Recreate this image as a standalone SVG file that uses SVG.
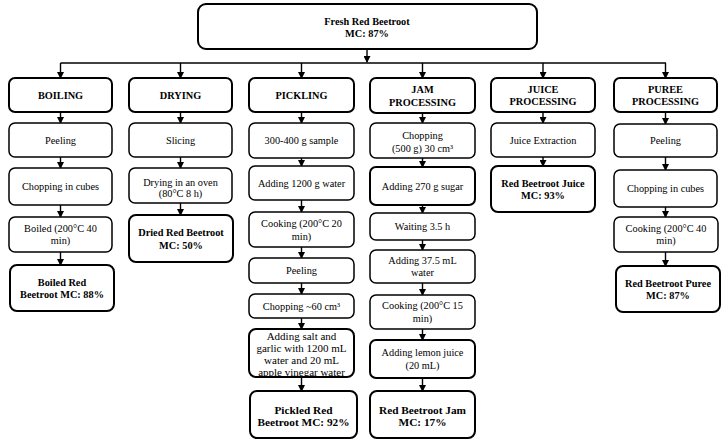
<svg xmlns="http://www.w3.org/2000/svg" width="726" height="444" viewBox="0 0 726 444">
<defs>
<style>
.box{fill:#fff;stroke:#000;stroke-width:1.5}
.hd{fill:#fff;stroke:#000;stroke-width:2}
text{font-family:"Liberation Serif","Times New Roman",serif;font-size:10.3px;text-anchor:middle;fill:#000}
.b{font-weight:bold}
.big{font-size:11.3px}
.sm{font-size:11px}
.ln{stroke:#000;stroke-width:1.4;fill:none}
.ar{stroke:#000;stroke-width:1.4;fill:none;marker-end:url(#ah)}
</style>
<marker id="ah" markerWidth="7" markerHeight="7" refX="6" refY="3.5" orient="auto" markerUnits="userSpaceOnUse">
<path d="M0,0 L7,3.5 L0,7 Z" fill="#000"/>
</marker>
</defs>
<rect width="726" height="444" fill="#fff"/>

<g id="connectors">
<line class="ar" x1="367" y1="49" x2="367" y2="62"/>
<line class="ln" x1="60.5" y1="63" x2="666" y2="63"/>
<line class="ar" x1="60.5" y1="63" x2="60.5" y2="78"/>
<line class="ar" x1="180.5" y1="63" x2="180.5" y2="78"/>
<line class="ar" x1="301.5" y1="63" x2="301.5" y2="78"/>
<line class="ar" x1="422.5" y1="63" x2="422.5" y2="78"/>
<line class="ar" x1="543" y1="63" x2="543" y2="78"/>
<line class="ar" x1="665.5" y1="63" x2="665.5" y2="78"/>
<!-- col1 -->
<line class="ar" x1="60.5" y1="112" x2="60.5" y2="123"/>
<line class="ar" x1="60.5" y1="157" x2="60.5" y2="168"/>
<line class="ar" x1="60.5" y1="205" x2="60.5" y2="217"/>
<line class="ar" x1="60.5" y1="252" x2="60.5" y2="265"/>
<!-- col2 -->
<line class="ar" x1="180.5" y1="112" x2="180.5" y2="123"/>
<line class="ar" x1="180.5" y1="157" x2="180.5" y2="168"/>
<line class="ar" x1="180.5" y1="203" x2="180.5" y2="215"/>
<!-- col3 -->
<line class="ar" x1="301.5" y1="112" x2="301.5" y2="123"/>
<line class="ar" x1="301.5" y1="158" x2="301.5" y2="166"/>
<line class="ar" x1="301.5" y1="200" x2="301.5" y2="212"/>
<line class="ar" x1="301.5" y1="247" x2="301.5" y2="258"/>
<line class="ar" x1="301.5" y1="283" x2="301.5" y2="294"/>
<line class="ar" x1="301.5" y1="318" x2="301.5" y2="329"/>
<line class="ar" x1="301.5" y1="377" x2="301.5" y2="391"/>
<!-- col4 -->
<line class="ar" x1="422.5" y1="113" x2="422.5" y2="123"/>
<line class="ar" x1="422.5" y1="158" x2="422.5" y2="167"/>
<line class="ar" x1="422.5" y1="205" x2="422.5" y2="213"/>
<line class="ar" x1="422.5" y1="240" x2="422.5" y2="250"/>
<line class="ar" x1="422.5" y1="283" x2="422.5" y2="295"/>
<line class="ar" x1="422.5" y1="329" x2="422.5" y2="340"/>
<line class="ar" x1="422.5" y1="378" x2="422.5" y2="391"/>
<!-- col5 -->
<line class="ar" x1="543" y1="112" x2="543" y2="123"/>
<line class="ar" x1="543" y1="157" x2="543" y2="166"/>
<!-- col6 -->
<line class="ar" x1="665.5" y1="112" x2="665.5" y2="124"/>
<line class="ar" x1="665.5" y1="157" x2="665.5" y2="170"/>
<line class="ar" x1="665.5" y1="207" x2="665.5" y2="217"/>
<line class="ar" x1="665.5" y1="252" x2="665.5" y2="266"/>
</g>

<g id="fresh">
<rect class="hd" x="198" y="4" width="339" height="45" rx="8"/>
<text class="b" x="367" y="25">Fresh Red Beetroot</text>
<text class="b" x="367" y="37">MC: 87%</text>
</g>

<!-- Column 1 -->
<g id="boiling">
<rect class="hd" x="9" y="78" width="103" height="34" rx="6"/>
<text class="b" x="60.5" y="98.5">BOILING</text>
</g>
<g id="boil-peeling">
<rect class="box" x="9" y="123" width="103" height="34" rx="6"/>
<text x="60.5" y="143.5">Peeling</text>
</g>
<g id="boil-chopping">
<rect class="box" x="9" y="168" width="103" height="37" rx="6"/>
<text x="60.5" y="190">Chopping in cubes</text>
</g>
<g id="boil-boiled">
<rect class="box" x="9" y="217" width="103" height="35" rx="6"/>
<text x="60.5" y="231.5">Boiled (200°C 40</text>
<text x="60.5" y="244">min)</text>
</g>
<g id="boil-result">
<rect class="hd" x="10" y="265" width="104" height="46" rx="7"/>
<text class="b" x="62" y="285.5">Boiled Red</text>
<text class="b" x="62" y="298">Beetroot MC: 88%</text>
</g>

<!-- Column 2 -->
<g id="drying">
<rect class="hd" x="129" y="78" width="103" height="34" rx="6"/>
<text class="b" x="180.5" y="98.5">DRYING</text>
</g>
<g id="dry-slicing">
<rect class="box" x="129" y="123" width="103" height="34" rx="6"/>
<text x="180.5" y="143.5">Slicing</text>
</g>
<g id="dry-oven">
<rect class="box" x="129" y="168" width="103" height="35" rx="6"/>
<text x="180.5" y="185.5">Drying in an oven</text>
<text x="180.5" y="196.5">(80°C 8 h)</text>
</g>
<g id="dry-result">
<rect class="hd" x="129" y="215" width="104" height="47" rx="7"/>
<text class="b" x="181" y="236">Dried Red Beetroot</text>
<text class="b" x="181" y="248.5">MC: 50%</text>
</g>

<!-- Column 3 -->
<g id="pickling">
<rect class="hd" x="249" y="78" width="105" height="34" rx="6"/>
<text class="b" x="301.5" y="98.5">PICKLING</text>
</g>
<g id="pick-sample">
<rect class="box" x="249" y="123" width="105" height="35" rx="6"/>
<text x="301.5" y="144">300-400 g sample</text>
</g>
<g id="pick-water">
<rect class="box" x="249" y="166" width="105" height="34" rx="6"/>
<text x="301.5" y="186.5">Adding 1200 g water</text>
</g>
<g id="pick-cooking">
<rect class="box" x="249" y="212" width="105" height="35" rx="6"/>
<text x="301.5" y="227">Cooking (200°C 20</text>
<text x="301.5" y="239.5">min)</text>
</g>
<g id="pick-peeling">
<rect class="box" x="249" y="258" width="105" height="25" rx="6"/>
<text x="301.5" y="274">Peeling</text>
</g>
<g id="pick-chopping">
<rect class="box" x="249" y="294" width="105" height="24" rx="6"/>
<text x="301.5" y="309.5">Chopping ~60 cm³</text>
</g>
<g id="pick-salt">
<rect class="hd" x="249" y="329" width="105" height="48" rx="7"/>
<text class="sm" x="301.5" y="339.5">Adding salt and</text>
<text class="sm" x="301.5" y="351.5">garlic with 1200 mL</text>
<text class="sm" x="301.5" y="363.5">water and 20 mL</text>
<text class="sm" x="301.5" y="375.5">apple vinegar water</text>
</g>
<g id="pick-result">
<rect class="hd" x="250" y="391" width="107" height="47" rx="7"/>
<text class="b big" x="303.5" y="413.5">Pickled Red</text>
<text class="b big" x="303.5" y="426">Beetroot MC: 92%</text>
</g>

<!-- Column 4 -->
<g id="jam">
<rect class="hd" x="370" y="78" width="105" height="35" rx="6"/>
<text class="b" x="422.5" y="93">JAM</text>
<text class="b" x="422.5" y="105.5">PROCESSING</text>
</g>
<g id="jam-chopping">
<rect class="box" x="370" y="123" width="105" height="35" rx="6"/>
<text x="422.5" y="138.5">Chopping</text>
<text x="422.5" y="152">(500 g) 30 cm³</text>
</g>
<g id="jam-sugar">
<rect class="hd" x="370" y="167" width="105" height="38" rx="6"/>
<text x="422.5" y="189.5">Adding 270 g sugar</text>
</g>
<g id="jam-waiting">
<rect class="box" x="370" y="213" width="105" height="27" rx="6"/>
<text x="422.5" y="230">Waiting  3.5 h</text>
</g>
<g id="jam-water">
<rect class="box" x="370" y="250" width="105" height="33" rx="6"/>
<text x="422.5" y="263.5">Adding 37.5 mL</text>
<text x="422.5" y="276">water</text>
</g>
<g id="jam-cooking">
<rect class="box" x="370" y="295" width="105" height="34" rx="6"/>
<text x="422.5" y="309">Cooking (200°C 15</text>
<text x="422.5" y="321.5">min)</text>
</g>
<g id="jam-lemon">
<rect class="hd" x="370" y="340" width="105" height="38" rx="6"/>
<text x="422.5" y="356">Adding lemon juice</text>
<text x="422.5" y="368.5">(20 mL)</text>
</g>
<g id="jam-result">
<rect class="hd" x="370" y="391" width="105" height="47" rx="7"/>
<text class="b big" x="422.5" y="413.5">Red Beetroot Jam</text>
<text class="b big" x="422.5" y="426">MC: 17%</text>
</g>

<!-- Column 5 -->
<g id="juice">
<rect class="hd" x="491" y="78" width="104" height="34" rx="6"/>
<text class="b" x="543" y="92.5">JUICE</text>
<text class="b" x="543" y="105">PROCESSING</text>
</g>
<g id="juice-extraction">
<rect class="box" x="491" y="123" width="104" height="34" rx="6"/>
<text x="543" y="143.5">Juice Extraction</text>
</g>
<g id="juice-result">
<rect class="hd" x="491" y="166" width="104" height="46" rx="7"/>
<text class="b" x="543" y="186.5">Red Beetroot Juice</text>
<text class="b" x="543" y="199">MC: 93%</text>
</g>

<!-- Column 6 -->
<g id="puree">
<rect class="hd" x="614" y="78" width="103" height="34" rx="6"/>
<text class="b" x="665.5" y="92.5">PUREE</text>
<text class="b" x="665.5" y="105">PROCESSING</text>
</g>
<g id="puree-peeling">
<rect class="box" x="614" y="124" width="103" height="33" rx="6"/>
<text x="665.5" y="144">Peeling</text>
</g>
<g id="puree-chopping">
<rect class="box" x="614" y="170" width="103" height="37" rx="6"/>
<text x="665.5" y="192">Chopping in cubes</text>
</g>
<g id="puree-cooking">
<rect class="box" x="614" y="217" width="104" height="35" rx="6"/>
<text x="666" y="231.5">Cooking (200°C 40</text>
<text x="666" y="244">min)</text>
</g>
<g id="puree-result">
<rect class="hd" x="616" y="266" width="104" height="46" rx="7"/>
<text class="b" x="668" y="286.5">Red Beetroot Puree</text>
<text class="b" x="668" y="299">MC: 87%</text>
</g>
</svg>
